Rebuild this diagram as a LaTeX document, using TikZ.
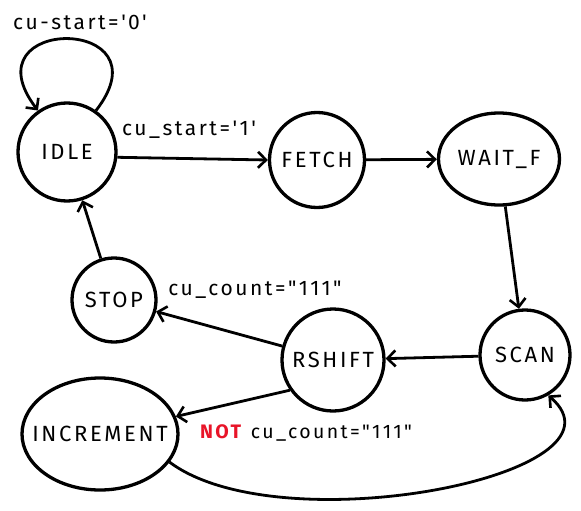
\documentclass[tikz,border=0pt]{standalone}
\usepackage{fontspec}
\usetikzlibrary{arrows.meta,shapes.geometric}
\newfontfamily\hand[LetterSpace=12]{Fira Sans}
\definecolor{notred}{RGB}{232,20,40}
\tikzset{
  state/.style={circle,draw,line width=3.3pt,inner sep=0pt,font=\hand\fontsize{22}{24}\selectfont},
  ostate/.style={ellipse,draw,line width=3.3pt,inner sep=0pt,font=\hand\fontsize{22}{24}\selectfont},
  edge/.style={line width=2.8pt,-{Straight Barb[length=8pt,width=16pt,line width=2.6pt]}},
  lbl/.style={font=\hand\fontsize{21}{23}\selectfont,inner sep=0pt}
}
\begin{document}
\begin{tikzpicture}[x=1pt,y=1pt]
\useasboundingbox (0,0) rectangle (581,-511);
\node[state,minimum size=98pt] (idle) at (67,-152) {IDLE};
\node[state,minimum size=95pt] (fetch) at (317,-160) {FETCH};
\node[ostate,minimum width=121pt,minimum height=92pt,inner xsep=-10pt] (waitf) at (499,-159) {WAIT\_F};
\node[state,minimum size=90pt] (scan) at (525,-355) {SCAN};
\node[state,minimum size=102pt] (rshift) at (333,-360) {RSHIFT};
\node[state,minimum size=84pt] (stop) at (114,-300) {STOP};
\node[ostate,minimum width=156pt,minimum height=112pt,inner xsep=-30pt] (incr) at (100,-434) {INCREMENT};

\draw[edge] (idle.55) .. controls (170,-15) and (-35,-15) .. (idle.125);
\node[lbl] (l0) at (80,-22) {cu-start='0'};

\draw[edge] (idle.-6) -- (fetch.180);
\node[lbl] (l1) at (189,-130) {cu\_start='1'};

\draw[edge] (fetch) -- (waitf);
\draw[edge] (waitf) -- (scan);
\draw[edge] (scan) -- (rshift);
\draw[edge] (rshift) -- (stop);
\node[lbl] (l2) at (255,-290) {cu\_count="111"};
\draw[edge] (rshift.215) -- (incr);
\node[lbl,font=\hand\fontsize{19.5}{22}\selectfont] (l3) at (306,-433) {\textcolor{notred}{\textbf{NOT}} cu\_count="111"};
\draw[edge] (incr.-22) .. controls (280,-545) and (640,-475) .. (scan.-60);
\draw[edge] (stop) -- (idle);
\end{tikzpicture}
\end{document}
